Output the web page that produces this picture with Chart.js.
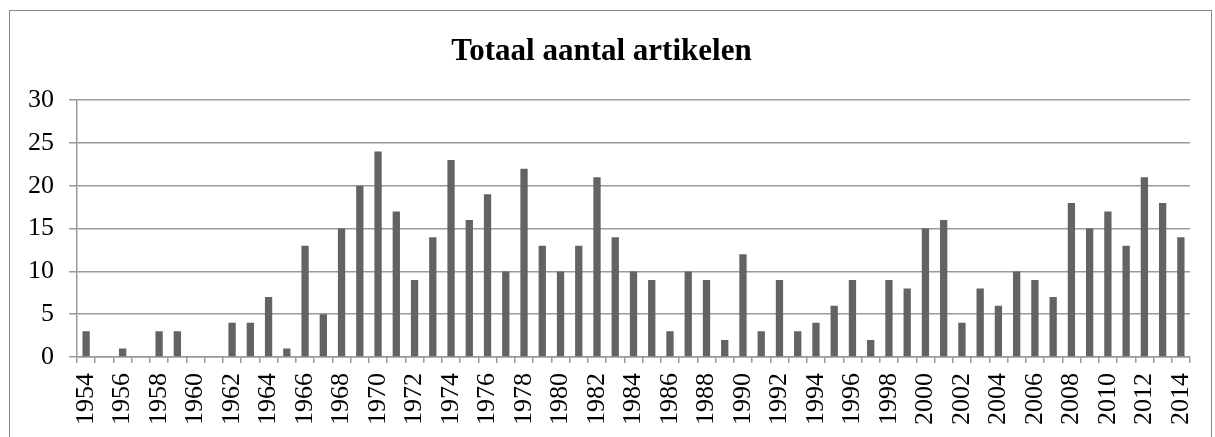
<!DOCTYPE html>
<html>
<head>
<meta charset="utf-8">
<script src="https://cdn.jsdelivr.net/npm/chart.js@4/dist/chart.umd.min.js"></script>
<style>
    html, body { margin: 0; padding: 0; background: #fff; }
    #wrap { position: relative; width: 1215px; height: 437px; overflow: hidden; }
    #frame { position: absolute; left: 9px; top: 10px; width: 1203px; height: 440px; border: 1.5px solid #8a8a8a; box-sizing: border-box; }
    canvas { position: absolute; left: 0; top: 0; }
</style>
</head>
<body>
<div id="wrap">
    <div id="frame"></div>
    <canvas id="chart" width="1215" height="437"></canvas>
</div>
<script>
const years = ['1954','1955','1956','1957','1958','1959','1960','1961','1962','1963',
    '1964','1965','1966','1967','1968','1969','1970','1971','1972','1973',
    '1974','1975','1976','1977','1978','1979','1980','1981','1982','1983',
    '1984','1985','1986','1987','1988','1989','1990','1991','1992','1993',
    '1994','1995','1996','1997','1998','1999','2000','2001','2002','2003',
    '2004','2005','2006','2007','2008','2009','2010','2011','2012','2013','2014'];
const articles = [3, 0, 1, 0, 3, 3, 0, 0, 4, 4,
    7, 1, 13, 5, 15, 20, 24, 17, 9, 14,
    23, 16, 19, 10, 22, 13, 10, 13, 21, 14,
    10, 9, 3, 10, 9, 2, 12, 3, 9, 3,
    4, 6, 9, 2, 9, 8, 15, 16, 4, 8,
    6, 10, 9, 7, 18, 15, 17, 13, 21, 18, 14];
const yTicks = [0, 5, 10, 15, 20, 25, 30];

const serif = '"Liberation Serif", "Times New Roman", serif';
const axisGray = '#9a9a9a';

new Chart(document.getElementById('chart'), {
    type: 'bar',
    data: {
        labels: years,
        datasets: [{
            data: articles,
            backgroundColor: '#636363',
            categoryPercentage: 1,
            barPercentage: 0.4
        }]
    },
    options: {
        responsive: false,
        animation: false,
        layout: { padding: { left: 13, right: 25, top: 33, bottom: 2 } },
        plugins: {
            legend: { display: false },
            tooltip: { enabled: false },
            title: {
                display: true,
                text: 'Totaal aantal artikelen',
                color: '#000',
                font: { family: serif, size: 31, weight: 'bold' },
                padding: { top: 0, bottom: 30 }
            }
        },
        scales: {
            x: {
                // the rotated end labels fit inside the frame, so drop the extra side padding
                afterFit: function (axis) { axis.paddingLeft = 0; axis.paddingRight = 0; },
                grid: { display: true, drawOnChartArea: false, drawTicks: true, tickLength: 6, color: axisGray, lineWidth: 1.5, offset: true },
                border: { color: axisGray, width: 1.5 },
                ticks: {
                    autoSkip: false,
                    maxRotation: 90,
                    minRotation: 90,
                    padding: 10,
                    color: '#000',
                    font: { family: serif, size: 26 },
                    callback: function (v, i) { return i % 2 === 0 ? years[i] : ''; }
                }
            },
            y: {
                min: 0,
                max: 30,
                afterBuildTicks: function (axis) { axis.ticks = yTicks.map(v => ({ value: v })); },
                grid: { color: axisGray, lineWidth: 1.5, tickLength: 8 },
                border: { color: axisGray, width: 1.5 },
                ticks: {
                    padding: 15,
                    color: '#000',
                    font: { family: serif, size: 26 }
                }
            }
        }
    }
});
</script>
</body>
</html>
